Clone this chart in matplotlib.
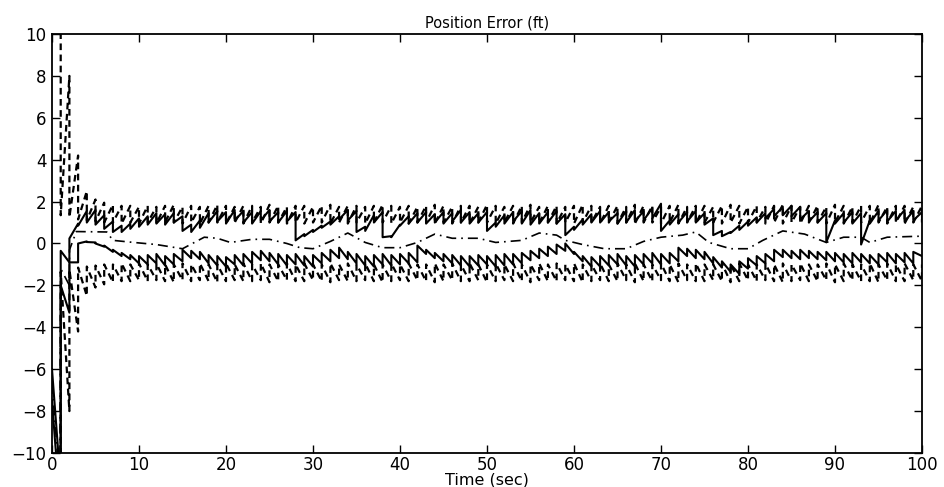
import numpy as np
import matplotlib
matplotlib.use("Agg")
import matplotlib.pyplot as plt

# ---------------- data ----------------
update_times = list(range(1, 101))          # measurement updates every 1 s

# filter 1-sigma bound (dashed, plotted as +/-)
sigma_start = 12.0
sigma_pre = [14.0, 8.0, 4.2, 2.5, 2.1, 1.95, 1.85, 1.8, 1.8, 1.75,
             1.8, 1.75, 1.8, 1.85, 1.75, 1.8, 1.75, 1.8, 1.85, 1.8,
             1.75, 1.8, 1.8, 1.75, 1.85, 1.8, 1.75, 1.8, 1.8, 1.75,
             1.8, 1.85, 1.75, 1.8, 1.8, 1.75, 1.8, 1.85, 1.8, 1.75,
             1.8, 1.75, 1.8, 1.85, 1.8, 1.75, 1.8, 1.8, 1.75, 1.85,
             1.8, 1.75, 1.8, 1.8, 1.85, 1.75, 1.8, 1.8, 1.75, 1.8,
             1.85, 1.8, 1.75, 1.8, 1.8, 1.75, 1.85, 1.8, 1.8, 1.75,
             1.8, 1.85, 1.75, 1.8, 1.8, 1.75, 1.8, 1.85, 1.8, 1.75,
             1.8, 1.75, 1.8, 1.85, 1.8, 1.75, 1.8, 1.8, 1.75, 1.85,
             1.8, 1.75, 1.8, 1.8, 1.85, 1.75, 1.8, 1.8, 1.75, 1.8]
sigma_post = [1.35, 1.25, 1.15, 1.1, 1.05, 1.0, 1.0, 0.95, 1.0, 0.95,
              1.0, 0.95, 1.0, 1.0, 0.95, 1.0, 0.95, 1.0, 1.0, 0.95,
              1.0, 0.95, 1.0, 0.95, 1.0, 1.0, 0.95, 1.0, 0.95, 1.0,
              1.0, 0.95, 1.0, 0.95, 1.0, 0.95, 1.0, 1.0, 0.95, 1.0,
              0.95, 1.0, 1.0, 0.95, 1.0, 0.95, 1.0, 0.95, 1.0, 1.0,
              0.95, 1.0, 0.95, 1.0, 1.0, 0.95, 1.0, 0.95, 1.0, 0.95,
              1.0, 1.0, 0.95, 1.0, 0.95, 1.0, 0.95, 1.0, 1.0, 0.95,
              1.0, 0.95, 1.0, 0.95, 1.0, 1.0, 0.95, 1.0, 0.95, 1.0,
              1.0, 0.95, 1.0, 0.95, 1.0, 0.95, 1.0, 1.0, 0.95, 1.0,
              0.95, 1.0, 1.0, 0.95, 1.0, 0.95, 1.0, 0.95, 1.0, 1.0]

# upper solid curve (mean + std of error)
upper_start = -6.0
upper_pre = [-11.5, -3.3, 0.95, 1.55, 1.6, 1.35, 1.05, 0.85, 0.95, 1.2,
             1.3, 1.45, 1.4, 1.45, 1.3, 0.9, 1.1, 1.45, 1.55, 1.5,
             1.6, 1.55, 1.5, 1.55, 1.6, 1.5, 1.55, 1.5, 0.45, 0.65,
             0.85, 1.05, 1.3, 1.6, 1.55, 0.8, 1.35, 1.5, 0.35, 0.9,
             1.3, 1.45, 1.5, 1.4, 1.5, 1.45, 1.6, 1.5, 1.45, 1.5,
             1.0, 1.35, 1.5, 1.55, 1.6, 1.45, 1.5, 1.55, 1.4, 0.8,
             1.15, 1.4, 1.55, 1.5, 1.45, 1.55, 1.6, 1.55, 1.7, 1.9,
             1.1, 1.4, 1.5, 1.55, 1.45, 1.2, 0.6, 0.55, 0.85, 1.05,
             1.25, 1.45, 1.65, 1.75, 1.8, 1.75, 1.55, 1.5, 1.45, 1.1,
             1.45, 1.5, 1.45, 1.1, 1.55, 1.6, 1.55, 1.6, 1.55, 1.5]
upper_post = [-2.0, 0.24, 0.85, 1.0, 0.9, 0.7, 0.55, 0.55, 0.7, 0.8,
              0.9, 0.95, 0.9, 1.0, 0.6, 0.55, 0.75, 1.0, 1.05, 0.95,
              1.1, 1.0, 0.95, 1.1, 1.05, 1.0, 1.05, 0.15, 0.35, 0.55,
              0.75, 0.9, 1.15, 1.1, 0.55, 0.6, 1.0, 0.3, 0.3, 0.85,
              0.95, 1.0, 0.95, 1.0, 0.95, 1.05, 1.0, 0.95, 1.0, 0.6,
              0.8, 0.95, 1.05, 0.95, 0.9, 0.95, 1.0, 0.95, 0.4, 0.65,
              0.9, 1.0, 1.0, 1.05, 0.95, 1.0, 1.05, 1.1, 1.2, 0.6,
              0.9, 1.0, 1.05, 1.0, 0.9, 0.4, 0.35, 0.5, 0.65, 0.85,
              1.0, 1.2, 1.3, 1.35, 1.3, 1.15, 1.05, 1.0, 0.06, 0.95,
              1.0, 0.95, -0.05, 0.95, 1.1, 1.05, 1.1, 1.05, 1.1, 1.1]

# lower solid curve (mean - std of error)
lower_start = -7.5
lower_pre = [-13.0, -0.9, -0.9, 0.1, 0.05, -0.15, -0.4, -0.6, -0.75, -0.95,
             -1.0, -0.95, -1.05, -1.0, -0.85, -0.7, -0.75, -0.95, -1.05, -1.1,
             -1.0, -1.05, -0.95, -0.8, -0.85, -1.0, -1.05, -1.0, -1.05, -1.1,
             -0.95, -0.85, -0.7, -0.75, -0.95, -1.05, -1.1, -1.0, -1.05, -1.0,
             -0.95, -0.9, -0.5, -0.7, -0.85, -0.95, -1.05, -1.1, -1.05, -1.0,
             -1.1, -1.05, -1.0, -0.95, -0.8, -0.7, -0.6, -0.5, -0.35, -0.5,
             -0.85, -1.1, -1.1, -1.05, -1.0, -1.05, -1.1, -1.0, -0.95, -1.0,
             -0.95, -0.85, -0.6, -0.7, -0.75, -0.95, -1.15, -1.35, -1.45, -1.2,
             -1.05, -0.95, -0.85, -0.65, -0.7, -0.75, -0.7, -0.75, -0.8, -0.85,
             -0.9, -0.95, -0.9, -0.95, -1.0, -0.9, -0.95, -0.9, -0.95, -0.6]
lower_post = [-0.35, -0.9, 0.0, 0.07, 0.0, -0.1, -0.3, -0.45, -0.55, -0.6,
              -0.55, -0.5, -0.6, -0.5, -0.3, -0.35, -0.4, -0.55, -0.6, -0.65,
              -0.55, -0.5, -0.4, -0.35, -0.45, -0.5, -0.55, -0.5, -0.6, -0.55,
              -0.45, -0.3, -0.2, -0.4, -0.5, -0.6, -0.55, -0.5, -0.55, -0.5,
              -0.45, -0.1, -0.3, -0.45, -0.5, -0.55, -0.6, -0.6, -0.55, -0.6,
              -0.55, -0.5, -0.5, -0.45, -0.35, -0.25, -0.15, -0.05, 0.0, -0.4,
              -0.6, -0.65, -0.6, -0.55, -0.5, -0.6, -0.55, -0.5, -0.45, -0.5,
              -0.45, -0.2, -0.25, -0.3, -0.4, -0.65, -0.85, -1.0, -0.85, -0.7,
              -0.6, -0.5, -0.3, -0.3, -0.35, -0.3, -0.35, -0.4, -0.4, -0.45,
              -0.5, -0.45, -0.5, -0.55, -0.5, -0.45, -0.5, -0.45, -0.4, -0.6]

# mean error (dash-dot)
mean_t = [0.0, 0.9, 1.0, 2.0, 2.01, 2.8, 6.3, 7.0, 9.4, 12.0, 15.0, 17.5, 19.0,
          20.5, 23.0, 25.0, 27.0, 28.5, 30.0, 32.0, 34.0, 36.0, 38.0, 40.0,
          42.0, 44.0, 46.0, 49.0, 51.0, 54.0, 56.0, 58.0, 59.0, 61.0, 63.5,
          66.0, 68.0, 70.0, 72.5, 74.0, 75.5, 78.0, 80.0, 81.7, 84.0, 86.5,
          89.0, 91.0, 93.0, 94.0, 96.0, 100.0]
mean_v = [-6.7, -11.5, -1.2, -2.0, -0.3, 0.57, 0.55, 0.15, 0.05, -0.05, -0.25,
          0.3, 0.25, 0.05, 0.2, 0.2, 0.0, -0.2, -0.25, 0.1, 0.5, 0.05, -0.2,
          -0.2, 0.05, 0.45, 0.25, 0.25, 0.05, 0.15, 0.5, 0.4, 0.15, -0.05,
          -0.25, -0.25, 0.1, 0.3, 0.4, 0.55, 0.05, -0.25, -0.25, 0.15, 0.6,
          0.45, 0.05, 0.3, 0.3, 0.05, 0.3, 0.35]

x_ticks = [0, 10, 20, 30, 40, 50, 60, 70, 80, 90, 100]
y_ticks = [-10, -8, -6, -4, -2, 0, 2, 4, 6, 8, 10]
title_text = "Position Error (ft)"
xlabel_text = "Time (sec)"


def sawtooth(start, pre, post, times):
    xs, ys = [0.0], [start]
    for t, a, b in zip(times, pre, post):
        xs += [t, t]
        ys += [a, b]
    return np.array(xs), np.array(ys)


plt.rcParams['font.family'] = ['DejaVu Sans']

fig = plt.figure(figsize=(9.45, 4.87), dpi=100)
ax = fig.add_axes([52 / 945, 34 / 487, 870 / 945, 419 / 487])

sx, sy = sawtooth(sigma_start, sigma_pre, sigma_post, update_times)
ax.plot(sx, sy, color='black', lw=1.6, linestyle=(0, (3, 2)))
ax.plot(sx, -sy, color='black', lw=1.6, linestyle=(0, (3, 2)))

ux, uy = sawtooth(upper_start, upper_pre, upper_post, update_times)
ax.plot(ux, uy, color='black', lw=1.5, linestyle='-')
lx, ly = sawtooth(lower_start, lower_pre, lower_post, update_times)
ax.plot(lx, ly, color='black', lw=1.5, linestyle='-')

ax.plot(mean_t, mean_v, color='black', lw=1.2, linestyle=(0, (6, 3, 1, 3)))

ax.set_xlim(0, 100)
ax.set_ylim(-10, 10)
ax.set_xticks(x_ticks)
ax.set_yticks(y_ticks)
ax.tick_params(direction='in', top=True, right=True, length=6, width=1,
               labelsize=12)
ax.tick_params(axis='x', pad=2)
ax.tick_params(axis='y', pad=4)
for s in ax.spines.values():
    s.set_linewidth(1.3)

ax.set_title(title_text, fontsize=10.5, pad=5)
ax.set_xlabel(xlabel_text, fontsize=11.5, labelpad=-1)

fig.savefig("out.png", dpi=100)
